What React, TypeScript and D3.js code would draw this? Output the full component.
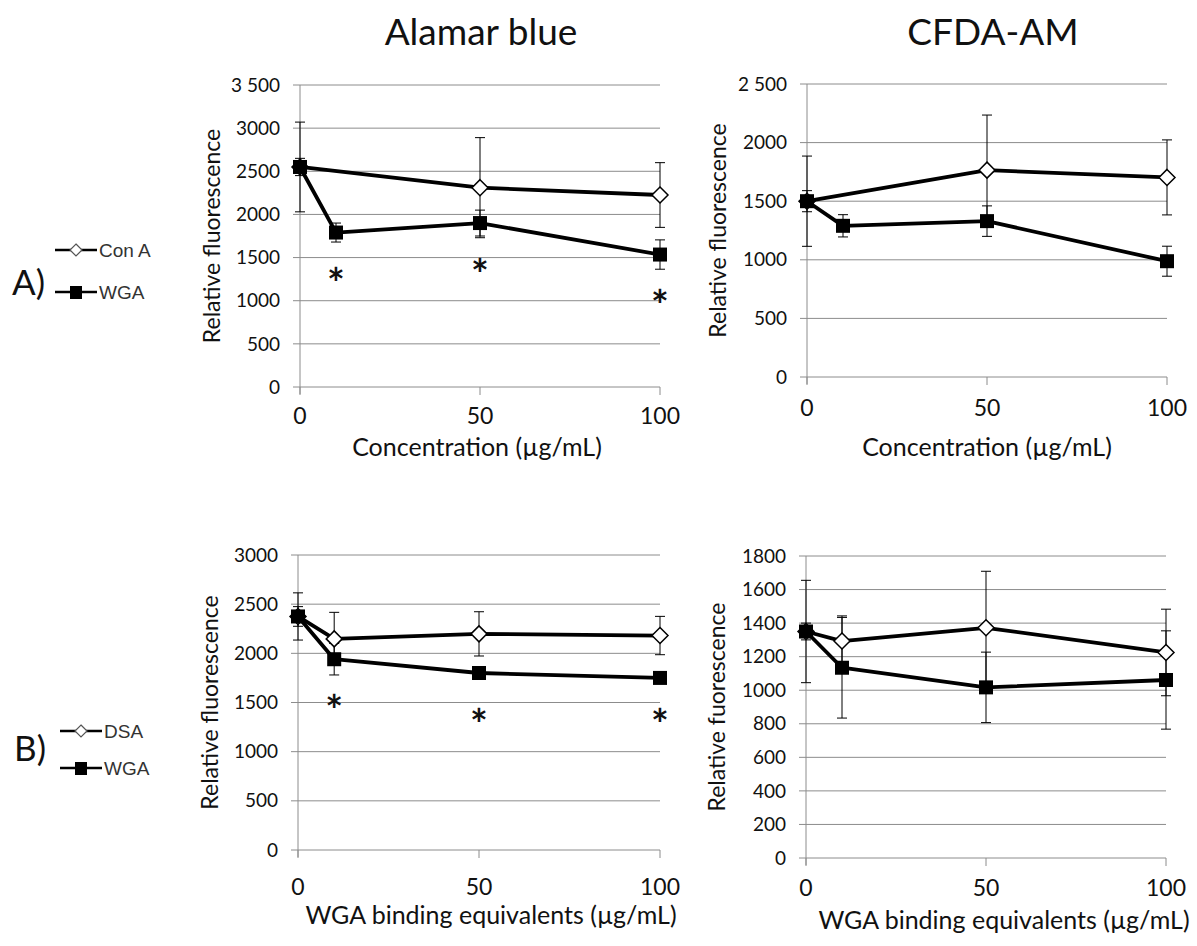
import React from "react";
import * as d3 from "d3";

// ---------- data ----------
const xTicks = [0, 50, 100];
const wgaX = [0, 10, 50, 100];
const conAX = [0, 50, 100];
const dsaX = [0, 10, 50, 100];

// A) Alamar blue
const aAlamarConA = [2550, 2310, 2225];
const aAlamarConAErr = [520, 580, 375];
const aAlamarWGA = [2550, 1790, 1900, 1535];
const aAlamarWGAErr = [100, 110, 150, 170];
const aAlamarStarX = [10, 50, 100];
const aAlamarStarY = [1320, 1425, 1066];
const aAlamarYTicks = [0, 500, 1000, 1500, 2000, 2500, 3000, 3500];
const aAlamarYLabels = ["0", "500", "1000", "1500", "2000", "2500", "3000", "3 500"];

// A) CFDA-AM
const aCfdaConA = [1500, 1765, 1703];
const aCfdaConAErr = [385, 470, 320];
const aCfdaWGA = [1500, 1290, 1330, 988];
const aCfdaWGAErr = [90, 95, 130, 128];
const aCfdaYTicks = [0, 500, 1000, 1500, 2000, 2500];
const aCfdaYLabels = ["0", "500", "1000", "1500", "2000", "2 500"];

// B) Alamar blue
const bAlamarDSA = [2375, 2147, 2198, 2181];
const bAlamarDSAErr = [240, 270, 225, 195];
const bAlamarWGA = [2375, 1940, 1800, 1750];
const bAlamarWGAErr = [100, 160, 50, 40];
const bAlamarStarX = [10, 50, 100];
const bAlamarStarY = [1526, 1384, 1384];
const bAlamarYTicks = [0, 500, 1000, 1500, 2000, 2500, 3000];
const bAlamarYLabels = ["0", "500", "1000", "1500", "2000", "2500", "3000"];

// B) CFDA-AM
const bCfdaDSA = [1350, 1293, 1372, 1225];
const bCfdaDSAErr = [305, 150, 337, 258];
const bCfdaWGA = [1350, 1134, 1017, 1061];
const bCfdaWGAErr = [50, 300, 210, 293];
const bCfdaYTicks = [0, 200, 400, 600, 800, 1000, 1200, 1400, 1600, 1800];
const bCfdaYLabels = ["0", "200", "400", "600", "800", "1000", "1200", "1400", "1600", "1800"];

const FONT = "Lato, 'Open Sans', sans-serif";
const GRID = "#8c8c8c";

type Series = { x: number[]; y: number[]; err: number[]; marker: "diamond" | "square" };

type PanelProps = {
  left: number; right: number; top: number; bottom: number;
  yMax: number; yTicks: number[]; yLabels: string[];
  series: Series[];
  starX?: number[]; starY?: number[];
  yTitle: string; yTitleX: number;
  xTitle: string; xTitleY: number; xTitleDx: number; xTickY: number;
};

function Panel(p: PanelProps) {
  const x = d3.scaleLinear().domain([0, 100]).range([p.left, p.right]);
  const y = d3.scaleLinear().domain([0, p.yMax]).range([p.bottom, p.top]);
  const line = d3.line<[number, number]>().x((d) => x(d[0])).y((d) => y(d[1]));
  const midY = (p.top + p.bottom) / 2;
  const midX = (p.left + p.right) / 2;
  return (
    <g>
      {p.yTicks.map((t, i) => (
        <g key={"yt" + i}>
          <line x1={p.left - 7} x2={p.right} y1={y(t)} y2={y(t)} stroke={GRID} strokeWidth={1} />
          <text x={p.left - 20} y={y(t)} dy="0.35em" textAnchor="end" fontSize={19} fontFamily={FONT} fill="#111">
            {p.yLabels[i]}
          </text>
        </g>
      ))}
      <line x1={p.left} x2={p.left} y1={p.top} y2={p.bottom + 7} stroke={GRID} strokeWidth={1} />
      {xTicks.map((t) => (
        <g key={"xt" + t}>
          <line x1={x(t)} x2={x(t)} y1={p.bottom} y2={p.bottom + 8} stroke={GRID} strokeWidth={1} />
          <text x={x(t)} y={p.xTickY} dy="0.35em" textAnchor="middle" fontSize={23} fontFamily={FONT} fill="#111">
            {t}
          </text>
        </g>
      ))}
      <text
        transform={`translate(${p.yTitleX},${midY}) rotate(-90)`}
        textAnchor="middle" dy="0.35em" fontSize={23} fontFamily={FONT} fill="#111"
      >
        {p.yTitle}
      </text>
      <text x={midX + p.xTitleDx} y={p.xTitleY} dy="0.35em" textAnchor="middle" fontSize={25} fontFamily={FONT} fill="#111">
        {p.xTitle}
      </text>
      {/* lines */}
      {p.series.map((s, si) => (
        <path key={"l" + si} d={line(s.x.map((v, i) => [v, s.y[i]] as [number, number])) || ""} fill="none" stroke="#000" strokeWidth={3.8} strokeLinejoin="round" />
      ))}
      {/* error bars */}
      {p.series.map((s, si) =>
        s.x.map((v, i) => (
          <g key={"e" + si + "-" + i} stroke="#000" strokeWidth={1}>
            <line x1={x(v)} x2={x(v)} y1={y(s.y[i] + s.err[i])} y2={y(s.y[i] - s.err[i])} />
            <line x1={x(v) - 5} x2={x(v) + 5} y1={y(s.y[i] + s.err[i])} y2={y(s.y[i] + s.err[i])} />
            <line x1={x(v) - 5} x2={x(v) + 5} y1={y(s.y[i] - s.err[i])} y2={y(s.y[i] - s.err[i])} />
          </g>
        ))
      )}
      {/* markers */}
      {p.series.map((s, si) =>
        s.x.map((v, i) => {
          const cx = x(v), cy = y(s.y[i]);
          return s.marker === "diamond" ? (
            <path key={"m" + si + "-" + i} d={`M${cx},${cy - 8}L${cx + 8},${cy}L${cx},${cy + 8}L${cx - 8},${cy}Z`} fill="#fff" stroke="#000" strokeWidth={1.5} />
          ) : (
            <rect key={"m" + si + "-" + i} x={cx - 7} y={cy - 7} width={14} height={14} fill="#000" />
          );
        })
      )}
      {p.starX && p.starY && p.starX.map((v, i) => (
        <text key={"s" + i} x={x(v)} y={y(p.starY![i])} dy="0.62em" textAnchor="middle" fontSize={42} fontWeight="bold" fontFamily={FONT} fill="#111">
          *
        </text>
      ))}
    </g>
  );
}

function LegendItem({ x, y, marker, label }: { x: number; y: number; marker: "diamond" | "square"; label: string }) {
  const cx = x + 21;
  return (
    <g>
      <line x1={x} x2={x + 42} y1={y} y2={y} stroke="#000" strokeWidth={2.5} />
      {marker === "diamond" ? (
        <path d={`M${cx},${y - 6}L${cx + 6},${y}L${cx},${y + 6}L${cx - 6},${y}Z`} fill="#fff" stroke="#555" strokeWidth={1.2} />
      ) : (
        <rect x={cx - 6} y={y - 6} width={12} height={13} fill="#000" />
      )}
      <text x={x + 44} y={y} dy="0.35em" fontSize={19} fontFamily="'Liberation Sans', Arial, sans-serif" fill="#333">
        {label}
      </text>
    </g>
  );
}

export default function App() {
  return (
    <svg width={1197} height={946} style={{ position: "absolute", left: 0, top: 0, background: "#fff" }} fontFamily={FONT}>
      <rect width={1197} height={946} fill="#fff" />
      <text x={481} y={32} dy="0.35em" textAnchor="middle" fontSize={37} fontFamily={FONT} fill="#111">Alamar blue</text>
      <text x={993} y={32} dy="0.35em" textAnchor="middle" fontSize={37} fontFamily={FONT} fill="#111">CFDA-AM</text>

      <text x={12} y={283} dy="0.35em" fontSize={35} fontFamily={FONT} fill="#111">A)</text>
      <LegendItem x={55} y={250} marker="diamond" label="Con A" />
      <LegendItem x={55} y={292} marker="square" label="WGA" />

      <text x={14} y={749} dy="0.35em" fontSize={35} fontFamily={FONT} fill="#111">B)</text>
      <LegendItem x={60} y={731} marker="diamond" label="DSA" />
      <LegendItem x={60} y={768} marker="square" label="WGA" />

      <Panel
        left={300} right={660} top={85} bottom={387} yMax={3500}
        yTicks={aAlamarYTicks} yLabels={aAlamarYLabels}
        series={[
          { x: conAX, y: aAlamarConA, err: aAlamarConAErr, marker: "diamond" },
          { x: wgaX, y: aAlamarWGA, err: aAlamarWGAErr, marker: "square" },
        ]}
        starX={aAlamarStarX} starY={aAlamarStarY}
        yTitle="Relative fluorescence" yTitleX={212}
        xTitle="Concentration (µg/mL)" xTitleY={447} xTitleDx={-3} xTickY={416}
      />
      <Panel
        left={807} right={1167} top={84} bottom={377} yMax={2500}
        yTicks={aCfdaYTicks} yLabels={aCfdaYLabels}
        series={[
          { x: conAX, y: aCfdaConA, err: aCfdaConAErr, marker: "diamond" },
          { x: wgaX, y: aCfdaWGA, err: aCfdaWGAErr, marker: "square" },
        ]}
        yTitle="Relative fluorescence" yTitleX={718}
        xTitle="Concentration (µg/mL)" xTitleY={447} xTitleDx={0} xTickY={408}
      />
      <Panel
        left={298} right={660} top={555} bottom={850} yMax={3000}
        yTicks={bAlamarYTicks} yLabels={bAlamarYLabels}
        series={[
          { x: dsaX, y: bAlamarDSA, err: bAlamarDSAErr, marker: "diamond" },
          { x: wgaX, y: bAlamarWGA, err: bAlamarWGAErr, marker: "square" },
        ]}
        starX={bAlamarStarX} starY={bAlamarStarY}
        yTitle="Relative fluorescence" yTitleX={210}
        xTitle="WGA binding equivalents (µg/mL)" xTitleY={915} xTitleDx={12} xTickY={887}
      />
      <Panel
        left={806} right={1166} top={556} bottom={858} yMax={1800}
        yTicks={bCfdaYTicks} yLabels={bCfdaYLabels}
        series={[
          { x: dsaX, y: bCfdaDSA, err: bCfdaDSAErr, marker: "diamond" },
          { x: wgaX, y: bCfdaWGA, err: bCfdaWGAErr, marker: "square" },
        ]}
        yTitle="Relative fuorescence" yTitleX={717}
        xTitle="WGA binding equivalents (µg/mL)" xTitleY={920} xTitleDx={18} xTickY={888}
      />
    </svg>
  );
}
